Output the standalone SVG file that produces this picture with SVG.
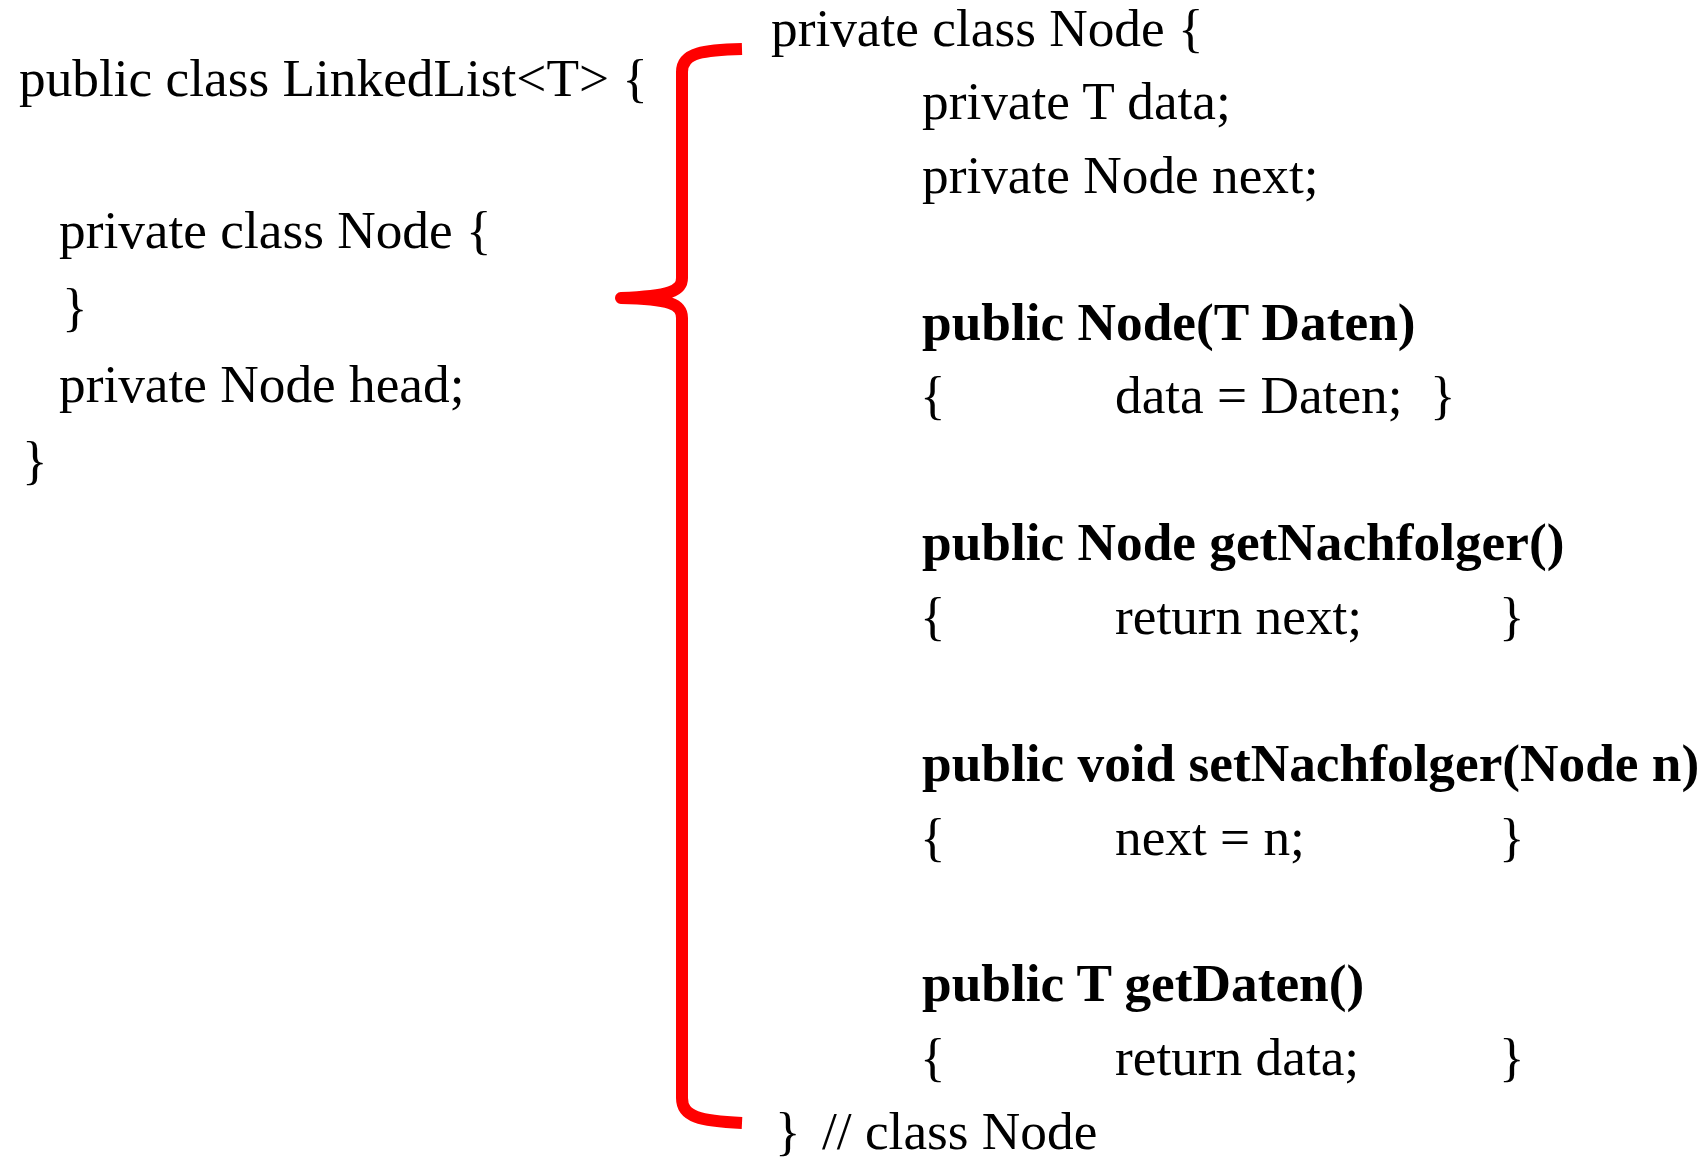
<svg xmlns="http://www.w3.org/2000/svg" width="1706" height="1158" viewBox="0 0 1706 1158">
<style>
text{font-family:"Liberation Serif","Times New Roman",serif;font-size:53.3px;fill:#000}
.b{font-weight:bold}
.brace{fill:none;stroke:#ff0000;stroke-width:12;stroke-linejoin:round}
</style>
<rect width="1706" height="1158" fill="#fff"/>
<g id="outer">
<text x="19" y="96">public class LinkedList&lt;T&gt; {</text>
<text x="59" y="248">private class Node {</text>
<text x="62" y="325">}</text>
<text x="59" y="402">private Node head;</text>
<text x="22" y="478">}</text>
</g>
<g id="connectors">
<path class="brace" d="M 742 49 C 705 50 682 52 682 72 L 682 278 C 682 291 670 296 621 298 C 670 299 682 304 682 318 L 682 1098 C 682 1117 700 1121 742 1123"/>
</g>
<g id="inner">
<text x="771" y="46">private class Node {</text>
<text x="922" y="119">private T data;</text>
<text x="922" y="193">private Node next;</text>
<text class="b" x="922" y="340">public Node(T Daten)</text>
<text x="920" y="413">{</text><text x="1115" y="413">data = Daten;</text><text x="1430" y="413">}</text>
<text class="b" x="922" y="560">public Node getNachfolger()</text>
<text x="920" y="634">{</text><text x="1115" y="634">return next;</text><text x="1499" y="634">}</text>
<text class="b" x="922" y="781">public void setNachfolger(Node n)</text>
<text x="920" y="855">{</text><text x="1115" y="855">next = n;</text><text x="1499" y="855">}</text>
<text class="b" x="922" y="1001">public T getDaten()</text>
<text x="920" y="1075">{</text><text x="1115" y="1075">return data;</text><text x="1499" y="1075">}</text>
<text x="775" y="1149">}</text><text x="822" y="1149">// class Node</text>
</g>
</svg>
